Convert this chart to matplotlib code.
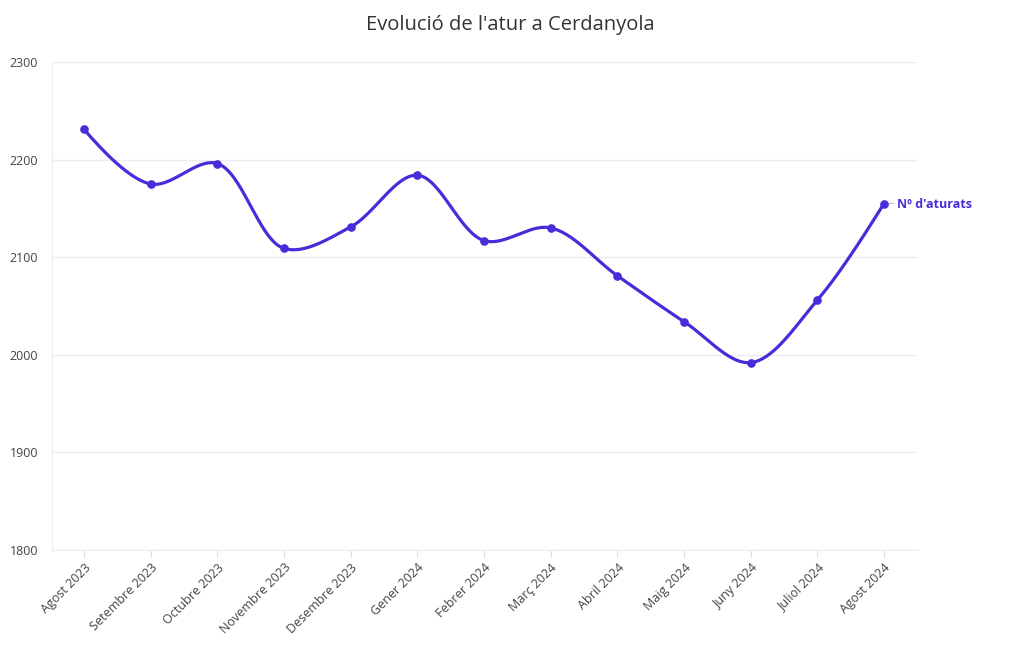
import numpy as np
import matplotlib
matplotlib.use("Agg")
import matplotlib.pyplot as plt

months = ["Agost 2023", "Setembre 2023", "Octubre 2023", "Novembre 2023",
          "Desembre 2023", "Gener 2024", "Febrer 2024", "Març 2024",
          "Abril 2024", "Maig 2024", "Juny 2024", "Juliol 2024", "Agost 2024"]
aturats = [2231, 2175, 2196, 2109, 2131, 2184, 2117, 2130, 2081, 2034, 1992, 2056, 2155]
y_ticks = [1800, 1900, 2000, 2100, 2200, 2300]
title = "Evolució de l'atur a Cerdanyola"
series_name = "Nº d'aturats"

COLOR = "#4a2bd9"
plt.rcParams['font.family'] = ['Open Sans', 'DejaVu Sans']

fig = plt.figure(figsize=(10.2, 6.5), dpi=100)
ax = fig.add_axes([52/1020, 1-550/650, (918-52)/1020, (550-62)/650])
ax.set_xlim(-0.48, 12.51)
ax.set_ylim(1800, 2300)

x = np.arange(len(months))
fig.canvas.draw()

# plotly-like spline smoothing, done in pixel space
pts = ax.transData.transform(np.column_stack([x, aturats]))

def tangent(p0, p1, p2, s=1.0):
    d1 = p0 - p1
    d2 = p2 - p1
    d1a = np.hypot(*d1) ** 0.5
    d2a = np.hypot(*d2) ** 0.5
    num = (d2a * d2a * d1 - d1a * d1a * d2) * s
    den1 = 3 * d2a * (d1a + d2a)
    den2 = 3 * d1a * (d1a + d2a)
    return p1 + num / den1, p1 - num / den2

tans = [tangent(pts[i-1], pts[i], pts[i+1]) for i in range(1, len(pts)-1)]
t = np.linspace(0, 1, 60)[:, None]
curve = []
def quad(a, c, b):
    return (1-t)**2*a + 2*(1-t)*t*c + t**2*b
def cub(a, c1, c2, b):
    return (1-t)**3*a + 3*(1-t)**2*t*c1 + 3*(1-t)*t**2*c2 + t**3*b
curve.append(quad(pts[0], tans[0][0], pts[1]))
for i in range(2, len(pts)-1):
    curve.append(cub(pts[i-1], tans[i-2][1], tans[i-1][0], pts[i]))
curve.append(quad(pts[-2], tans[-1][1], pts[-1]))
curve = np.vstack(curve)
curve_data = ax.transData.inverted().transform(curve)

ax.plot(curve_data[:, 0], curve_data[:, 1], color=COLOR, lw=2.3, solid_capstyle='round', zorder=3)
ax.plot(x, aturats, 'o', color=COLOR, ms=5.2, zorder=4)

ax.set_xticks(x)
ax.set_xticklabels(months, rotation=45, ha='right', rotation_mode='anchor',
                   fontsize=9, color='#444444')
ax.set_yticks(y_ticks)
ax.set_yticklabels([str(v) for v in y_ticks], fontsize=9, color='#444444')
ax.tick_params(axis='x', length=5, color='#dddddd', pad=3)
ax.tick_params(axis='y', length=0, pad=10)
ax.grid(axis='y', color='#eeeeee', lw=1)
ax.set_axisbelow(True)
for s in ['top', 'right']:
    ax.spines[s].set_visible(False)
ax.spines['left'].set_color('#eeeeee')
ax.spines['bottom'].set_color('#eeeeee')

# end label
ax.annotate(series_name, xy=(x[-1], aturats[-1]), xytext=(9.5, -1),
            textcoords='offset points', va='center', ha='left',
            fontsize=9, fontweight='bold', color=COLOR)
ax.annotate("", xy=(x[-1], aturats[-1]), xytext=(7, 0), textcoords='offset points',
            arrowprops=dict(arrowstyle='-', color='#bbbbbb', lw=0.8, shrinkA=0, shrinkB=3.6))

fig.text(510/1020, 1-25/650, title, ha='center', va='center', fontsize=14.5, color='#333333')

fig.savefig("out.png", dpi=100)
